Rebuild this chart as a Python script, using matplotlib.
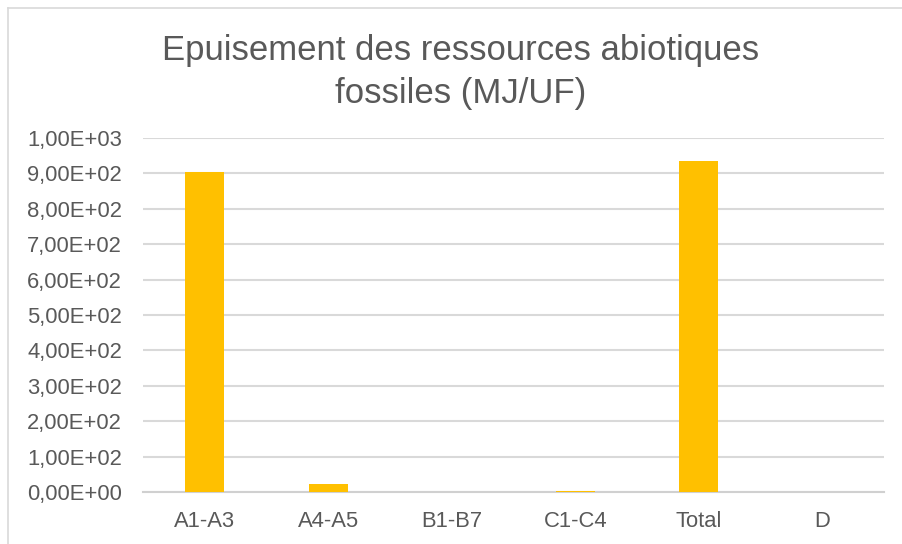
import matplotlib
matplotlib.use("Agg")
import matplotlib.pyplot as plt
from matplotlib.ticker import FuncFormatter
from matplotlib.lines import Line2D

# données
categories = ["A1-A3", "A4-A5", "B1-B7", "C1-C4", "Total", "D"]
valeurs = [905, 21.5, 0.0, 2.5, 935, 0.0]
yticks = [0, 100, 200, 300, 400, 500, 600, 700, 800, 900, 1000]

plt.rcParams["font.family"] = ["Liberation Sans", "DejaVu Sans"]
gris = "#595959"

fig = plt.figure(figsize=(9.02, 5.44), dpi=100)
ax = fig.add_axes([143 / 902, 1 - 492 / 544, (884 - 143) / 902, (492 - 138) / 544])

x = range(len(categories))
ax.bar(x, valeurs, width=0.315, color="#FFC000", zorder=3)

ax.set_xlim(-0.5, len(categories) - 0.5)
ax.set_ylim(0, 1000)
ax.set_yticks(yticks)
ax.yaxis.set_major_formatter(FuncFormatter(lambda v, p: f"{v:.2E}".replace(".", ",")))
ax.set_xticks(list(x))
ax.set_xticklabels(categories)

ax.grid(axis="y", color="#D9D9D9", linewidth=1.5, zorder=0)
for s in ["top", "right", "left"]:
    ax.spines[s].set_visible(False)
ax.spines["bottom"].set_color("#D0D0D0")
ax.spines["bottom"].set_linewidth(1.5)
ax.tick_params(axis="both", length=0, labelsize=15.8, labelcolor=gris)
ax.tick_params(axis="y", pad=15)
ax.tick_params(axis="x", pad=14)

fig.text(0.511, 1 - 72 / 544, "Epuisement des ressources abiotiques\nfossiles (MJ/UF)",
         ha="center", va="center", fontsize=25, color=gris, linespacing=1.42)

# cadre du graphique
fig.add_artist(Line2D([8 / 902, 8 / 902], [0, 1 - 7.5 / 544], transform=fig.transFigure,
                      color="#D9D9D9", linewidth=1.2))
fig.add_artist(Line2D([8 / 902, 1], [1 - 7.5 / 544, 1 - 7.5 / 544], transform=fig.transFigure,
                      color="#D9D9D9", linewidth=1.2))

fig.savefig("out.png", dpi=100)
